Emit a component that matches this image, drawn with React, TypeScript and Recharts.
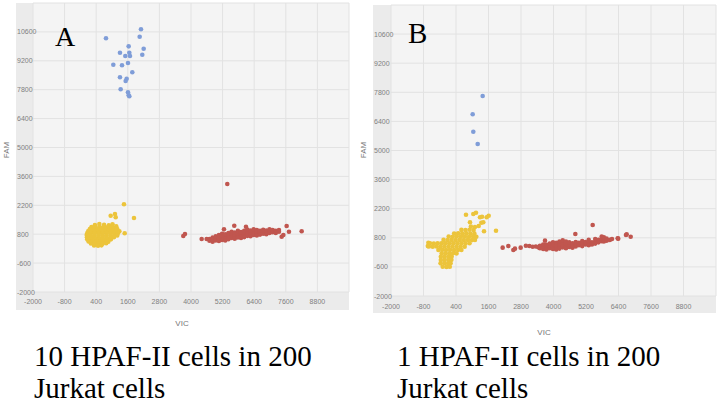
import { ScatterChart, Scatter, XAxis, YAxis, CartesianGrid } from 'recharts'

// axis ticks shared by both panels
const vicTicks = [-2000, -800, 400, 1600, 2800, 4000, 5200, 6400, 7600, 8800]
const famTicks = [-2000, -600, 800, 2200, 3600, 5000, 6400, 7800, 9200, 10600]

// panel A: 10 HPAF-II cells in 200 Jurkat cells  [VIC, FAM]
const blueA = [
  [772, 10290], [2101, 10726], [2051, 10368], [2203, 9785], [2150, 9495],
  [1633, 9901], [1303, 9592], [1658, 9592], [1505, 9432], [1683, 9432],
  [1050, 9011], [1380, 8982], [1607, 9093], [1771, 8642], [1303, 8400],
  [1557, 8332], [1519, 8221], [1329, 7819], [1607, 7674], [1658, 7480], [1633, 7530],
]
const yellowA = [
  [1455, 2248], [950, 1696], [1113, 1778], [1140, 1618], [1835, 1585], [1482, 843],
  [350, 1240], [520, 1290], [700, 1250], [880, 1230], [1020, 1280],
  [220, 1150], [380, 1160], [540, 1140], [690, 1170], [850, 1150], [1000, 1140], [1160, 1180],
  [160, 1050], [310, 1060], [460, 1040], [610, 1060], [760, 1050], [910, 1040], [1060, 1060], [1200, 1050],
  [100, 950], [250, 960], [400, 940], [560, 950], [710, 960], [860, 940], [1010, 950], [1160, 960], [1280, 940],
  [60, 850], [200, 840], [350, 860], [500, 850], [650, 840], [800, 860], [950, 850], [1100, 840], [1230, 860],
  [40, 760], [190, 750], [340, 740], [490, 760], [640, 750], [790, 740], [940, 760], [1090, 750], [1200, 740],
  [50, 650], [200, 660], [350, 640], [500, 650], [650, 660], [800, 640], [950, 650], [1080, 660],
  [60, 550], [210, 540], [360, 560], [510, 550], [660, 540], [810, 560], [960, 550],
  [110, 450], [260, 460], [410, 440], [560, 450], [710, 460], [860, 440],
  [200, 350], [350, 340], [500, 360], [650, 350], [780, 360],
  [320, 250], [470, 240], [600, 260],
]
const redA = [
  [5378, 3232], [3707, 713], [3771, 810], [4405, 567], [4595, 567], [8203, 940],
  [7632, 1197], [7720, 921], [7443, 679], [7506, 761], [5643, 1212], [6088, 1163], [5252, 1036],
  [4700, 560], [4700, 480], [4820, 640], [4820, 440], [4820, 540],
  [4940, 600], [4940, 700], [4940, 500], [5060, 560], [5060, 660], [5060, 760], [5060, 470],
  [5180, 620], [5180, 720], [5180, 520], [5180, 820], [5300, 700], [5300, 580], [5300, 800], [5300, 500],
  [5420, 660], [5420, 760], [5420, 860], [5420, 560], [5540, 720], [5540, 620], [5540, 820], [5540, 920],
  [5660, 680], [5660, 780], [5660, 880], [5660, 580], [5780, 740], [5780, 840], [5780, 640], [5780, 960],
  [5900, 800], [5900, 700], [5900, 900], [5900, 620], [6020, 760], [6020, 860], [6020, 960], [6020, 660],
  [6140, 820], [6140, 720], [6140, 920], [6140, 1020], [6260, 780], [6260, 880], [6260, 980], [6260, 700],
  [6380, 840], [6380, 940], [6380, 760], [6380, 1040], [6500, 800], [6500, 900], [6500, 1000], [6500, 740],
  [6620, 860], [6620, 960], [6620, 780], [6740, 820], [6740, 920], [6740, 1010],
  [6860, 880], [6860, 980], [6860, 800], [6980, 940], [6980, 1040], [6980, 860],
  [7100, 900], [7100, 1000], [7220, 960], [7220, 860], [7340, 1000], [7340, 920],
]

// panel B: 1 HPAF-II cells in 200 Jurkat cells
const blueB = [[1385, 7622], [1016, 6742], [1039, 5904], [1201, 5313]]
const yellowB = [
  [769, 1911], [1039, 1945], [1138, 2008], [1360, 1815], [1607, 1863], [917, 1545],
  [1408, 1545], [1238, 1368], [1434, 1112], [1877, 1141], [1533, 1786], [1286, 1786], [1335, 1526],
  [950, 1340], [1100, 1320],
  [600, 1180], [750, 1170], [900, 1190], [1050, 1170],
  [330, 1010], [480, 1020], [630, 1000], [780, 1020], [930, 1010], [1080, 1000],
  [130, 860], [280, 850], [430, 870], [580, 850], [730, 860], [880, 850], [1030, 870], [1150, 850],
  [-60, 700], [90, 690], [240, 700], [390, 690], [540, 700], [690, 690], [840, 700], [990, 690], [1100, 700],
  [-620, 560], [-560, 540], [-420, 520], [-280, 540], [-140, 530], [0, 540], [150, 530], [300, 540], [450, 530], [600, 540], [750, 530], [900, 540],
  [-640, 400], [-600, 380], [-460, 370], [-320, 380], [-180, 370], [-30, 380], [120, 370], [270, 380], [420, 370], [570, 380], [720, 370],
  [-250, 210], [-110, 220], [30, 210], [180, 220], [330, 210], [480, 220], [600, 210],
  [-130, 50], [10, 60], [150, 50], [290, 60], [420, 50],
  [-160, -110], [-20, -100], [120, -110], [240, -100],
  [-160, -270], [-20, -260], [120, -270], [230, -260],
  [-170, -430], [-30, -420], [110, -430], [200, -420],
  [-90, -590], [50, -600], [170, -590],
]
const redB = [
  [5447, 1416], [4806, 983], [6702, 967], [6370, 774], [6676, 935], [6850, 853],
  [2123, 325], [2332, 405], [2517, 213], [2578, 277], [2788, 325], [2980, 420], [3108, 405],
  [3231, 373], [3350, 380], [3440, 340], [3686, 662],
  [3500, 300], [3500, 420], [3620, 260], [3620, 380], [3620, 480], [3740, 340], [3740, 460], [3740, 240],
  [3860, 300], [3860, 420], [3860, 520], [3980, 360], [3980, 480], [3980, 260], [3980, 580],
  [4100, 320], [4100, 440], [4100, 560], [4100, 240], [4220, 380], [4220, 500], [4220, 620], [4220, 280],
  [4340, 340], [4340, 460], [4340, 580], [4340, 680], [4460, 400], [4460, 520], [4460, 300], [4460, 620],
  [4580, 360], [4580, 480], [4580, 580], [4700, 420], [4700, 540], [4700, 320],
  [4820, 380], [4820, 500], [4820, 600], [4940, 440], [4940, 560], [5060, 400], [5060, 520], [5060, 640],
  [5180, 480], [5180, 600], [5300, 540], [5300, 440], [5300, 700], [5420, 580], [5420, 480],
  [5540, 620], [5540, 520], [5540, 740], [5660, 580], [5660, 700], [5780, 640], [5780, 760], [5780, 860],
  [5860, 700], [5860, 820], [5860, 620], [5960, 760], [5960, 660], [6080, 700], [6160, 740], [6390, 760],
]

const toPts = (arr: number[][]) => arr.map(([x, y]) => ({ x, y }))

const BLUE = '#7f9dd8'
const YELLOW = '#ecc43b'
const RED = '#c0564f'
const tickFont = { fontFamily: 'Liberation Sans, Arial, sans-serif', fontSize: 7, fill: '#808080' }

const dot = (color: string) => (p: any) => <circle cx={p.cx} cy={p.cy} r={2.3} fill={color} />

interface PanelProps {
  left: number
  top: number
  right: number
  yAxisW: number
  xAxisH: number
  bottom: number
  labelX: number
  labelY: number
  blue: number[][]
  yellow: number[][]
  red: number[][]
}

function Panel({ left, top, right, yAxisW, xAxisH, bottom, labelX, labelY, blue, yellow, red }: PanelProps) {
  return (
    <ScatterChart width={360} height={340} margin={{ top, right, left, bottom }}>
      <CartesianGrid fill="#f4f4f4" stroke="#e2e2e2" />
      <XAxis
        type="number"
        dataKey="x"
        domain={[-2000, 10000]}
        ticks={vicTicks}
        interval={0}
        height={xAxisH}
        axisLine={false}
        tickLine={false}
        tickSize={0}
        tick={(p: any) => (
          <text x={p.x} y={labelY} textAnchor="middle" {...tickFont}>{p.payload.value}</text>
        )}
      />
      <YAxis
        type="number"
        dataKey="y"
        domain={[-2000, 12000]}
        ticks={famTicks}
        interval={0}
        width={yAxisW}
        axisLine={false}
        tickLine={false}
        tickSize={0}
        tick={(p: any) => (
          <text x={labelX} y={p.y + 2.5} textAnchor="start" {...tickFont}>{p.payload.value}</text>
        )}
      />
      <Scatter data={toPts(blue)} shape={dot(BLUE)} isAnimationActive={false} />
      <Scatter data={toPts(yellow)} shape={dot(YELLOW)} isAnimationActive={false} />
      <Scatter data={toPts(red)} shape={dot(RED)} isAnimationActive={false} />
    </ScatterChart>
  )
}

const serif = 'Liberation Serif, Times New Roman, serif'
const sans = 'Liberation Sans, Arial, sans-serif'

export default function App() {
  return (
    <div style={{ position: 'absolute', left: 0, top: 0, width: 720, height: 412, background: '#fff', overflow: 'hidden' }}>
      <div style={{ position: 'absolute', left: 16, top: 3, width: 333, height: 307, background: '#ebebeb' }} />
      <div style={{ position: 'absolute', left: 373, top: 5, width: 343, height: 308, background: '#ebebeb' }} />
      <div style={{ position: 'absolute', left: 0, top: 0 }}>
        <Panel left={16} top={3} right={11} yAxisW={17} xAxisH={18} bottom={30} labelX={17} labelY={303.5}
          blue={blueA} yellow={yellowA} red={redA} />
      </div>
      <div style={{ position: 'absolute', left: 360, top: 0 }}>
        <Panel left={13} top={5} right={4} yAxisW={18} xAxisH={17} bottom={27} labelX={14} labelY={308.5}
          blue={blueB} yellow={yellowB} red={redB} />
      </div>
      <svg width={720} height={412} style={{ position: 'absolute', left: 0, top: 0, pointerEvents: 'none' }}>
        <text x={55} y={46} fontFamily={serif} fontSize={28} fill="#000">A</text>
        <text x={408} y={43} fontFamily={serif} fontSize={29} fill="#000">B</text>
        <text transform="translate(8.5,150) rotate(-90)" textAnchor="middle" fontFamily={sans} fontSize={8} fill="#777">FAM</text>
        <text transform="translate(365.5,150) rotate(-90)" textAnchor="middle" fontFamily={sans} fontSize={8} fill="#777">FAM</text>
        <text x={182} y={326} textAnchor="middle" fontFamily={sans} fontSize={8} fill="#777">VIC</text>
        <text x={544} y={335} textAnchor="middle" fontFamily={sans} fontSize={8} fill="#777">VIC</text>
        <text x={34} y={366} fontFamily={serif} fontSize={29} fill="#000">10 HPAF-II cells in 200</text>
        <text x={34} y={398} fontFamily={serif} fontSize={29} fill="#000">Jurkat cells</text>
        <text x={397} y={366} fontFamily={serif} fontSize={29} fill="#000">1 HPAF-II cells in 200</text>
        <text x={397} y={398} fontFamily={serif} fontSize={29} fill="#000">Jurkat cells</text>
      </svg>
    </div>
  )
}
